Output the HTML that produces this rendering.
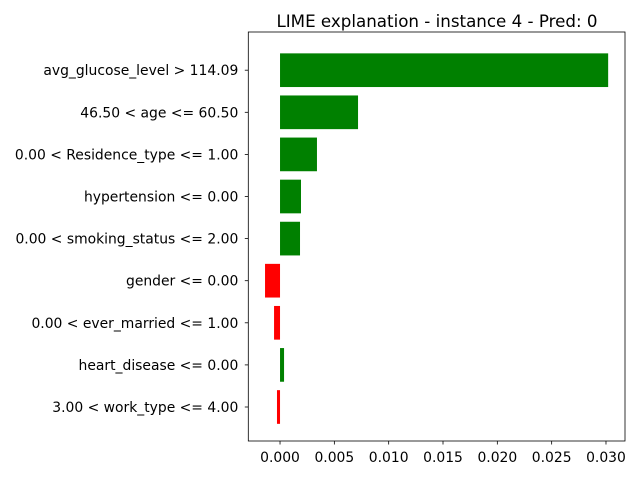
<!DOCTYPE html>
<html><head><meta charset="utf-8"><style>
body{margin:0;background:#fff;font-family:"Liberation Sans","DejaVu Sans",sans-serif}
svg text{font-family:"DejaVu Sans","Liberation Sans",sans-serif;font-size:13.9px;fill:#000}
</style></head><body>
<svg id="chart" width="640" height="480" xmlns="http://www.w3.org/2000/svg">
<text x="437" y="27" text-anchor="middle" style="font-size:16.7px">LIME explanation - instance 4 - Pred: 0</text>
<g id="bars"></g>
<g id="axes"></g>
</svg>
<script>
const features=["avg_glucose_level > 114.09","46.50 < age <= 60.50","0.00 < Residence_type <= 1.00","hypertension <= 0.00","0.00 < smoking_status <= 2.00","gender <= 0.00","0.00 < ever_married <= 1.00","heart_disease <= 0.00","3.00 < work_type <= 4.00"];
const weights=[0.0302,0.00718,0.0034,0.00193,0.00184,-0.00138,-0.00055,0.00037,-0.00028];
const xTicks=[0,0.005,0.01,0.015,0.02,0.025,0.03];
const xTickLabels=["0.000","0.005","0.010","0.015","0.020","0.025","0.030"];
const L=248.3,R=625,T=32,B=441;
const xmin=-0.00292,xmax=0.03175;
const x=v=>L+(v-xmin)/(xmax-xmin)*(R-L);
const n=features.length;
const yScale=42.1;
// row 0 is at top
const y=i=>70.2+i*yScale;
const NS="http://www.w3.org/2000/svg";
const bars=document.getElementById('bars'),axes=document.getElementById('axes');
function mk(t,a,p){const e=document.createElementNS(NS,t);for(const k in a)e.setAttribute(k,a[k]);p.appendChild(e);return e;}
weights.forEach((w,i)=>{
  const x0=x(Math.min(0,w)),x1=x(Math.max(0,w));
  const r=mk('rect',{x:x0,y:y(i)-0.4*yScale,width:x1-x0,height:0.8*yScale,fill:w>=0?'green':'red'},bars);
  
  
  const tk=mk('line',{x1:L,x2:L-3.5,y1:y(i),y2:y(i),stroke:'#000','stroke-width':0.8},axes);
  
  
  const t=mk('text',{x:L-10,y:y(i)+5,'text-anchor':'end'},axes);
  t.textContent=features[i];
  
  
});
xTicks.forEach((v,i)=>{
  const tk=mk('line',{x1:x(v),x2:x(v),y1:B,y2:B+3.5,stroke:'#000','stroke-width':0.8},axes);
  
  
  const t=mk('text',{x:x(v),y:B+21,'text-anchor':'middle'},axes);
  t.textContent=xTickLabels[i];
  
  
});
const fr=mk('rect',{x:L,y:T,width:R-L,height:B-T,fill:'none',stroke:'#000','stroke-width':0.8},axes);


</script>
</body></html>
